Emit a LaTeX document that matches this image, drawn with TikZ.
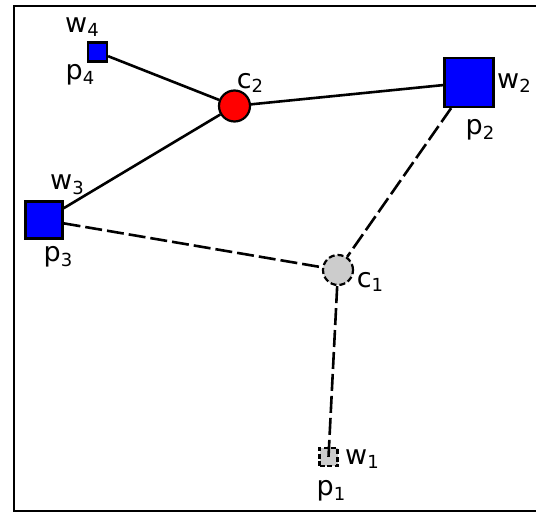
\documentclass[tikz,border=0pt]{standalone}
\usepackage{fontspec}
\setmainfont{DejaVu Sans}
\newcommand{\lbl}[2]{#1\raisebox{-0.32ex}{\fontsize{18}{18}\selectfont #2}}
\begin{document}
\begin{tikzpicture}[x=1pt,y=1pt,
  sq/.style={draw=black, line width=2.2pt, rectangle, inner sep=0pt},
  pt/.style={sq, fill=blue},
  ctr/.style={draw=black, line width=2.2pt, circle, inner sep=0pt},
  link/.style={line width=2.6pt, black},
  dlink/.style={line width=2.6pt, black, dash pattern=on 17pt off 5pt},
  tag/.style={inner sep=0pt, font=\fontsize{27}{27}\selectfont}]
\useasboundingbox (0,0) rectangle (536,512);
\fill[white] (0,0) rectangle (536,512);
% axes frame
\draw[line width=1.8pt] (13.7,1) rectangle (560,506);

% weighted points and centres
\node[pt, minimum size=19] (p4) at (97.5,460) {};
\node[pt, minimum size=49] (p2) at (469,429.5) {};
\node[pt, minimum size=37] (p3) at (44,292) {};
\node[sq, fill=black!20, dash pattern=on 5pt off 2.5pt, minimum size=18] (p1) at (328.5,55) {};
\node[ctr, fill=red, minimum size=31] (c2) at (234.5,406) {};
\node[ctr, fill=black!20, dash pattern=on 6pt off 3pt, minimum size=30] (c1) at (338,242) {};

% assignments
\draw[link] (p4) -- (c2);
\draw[link] (c2) -- (p2);
\draw[link] (c2) -- (p3);
\draw[dlink] (p3) -- (c1);
\draw[dlink] (p2) -- (c1);
\draw[dlink] (c1) -- (p1.center);

% labels
\node[tag] (w4) at (82,485) {\lbl{w}{4}};
\node[tag] (lp4) at (80,437) {\lbl{p}{4}};
\node[tag] (lc2) at (250,429) {\lbl{c}{2}};
\node[tag] (w2) at (514,429) {\lbl{w}{2}};
\node[tag] (lp2) at (480,382) {\lbl{p}{2}};
\node[tag] (w3) at (67,327) {\lbl{w}{3}};
\node[tag] (lp3) at (58,255) {\lbl{p}{3}};
\node[tag] (lc1) at (370,230) {\lbl{c}{1}};
\node[tag] (w1) at (362,53) {\lbl{w}{1}};
\node[tag] (lp1) at (331,21) {\lbl{p}{1}};
\end{tikzpicture}
\end{document}
